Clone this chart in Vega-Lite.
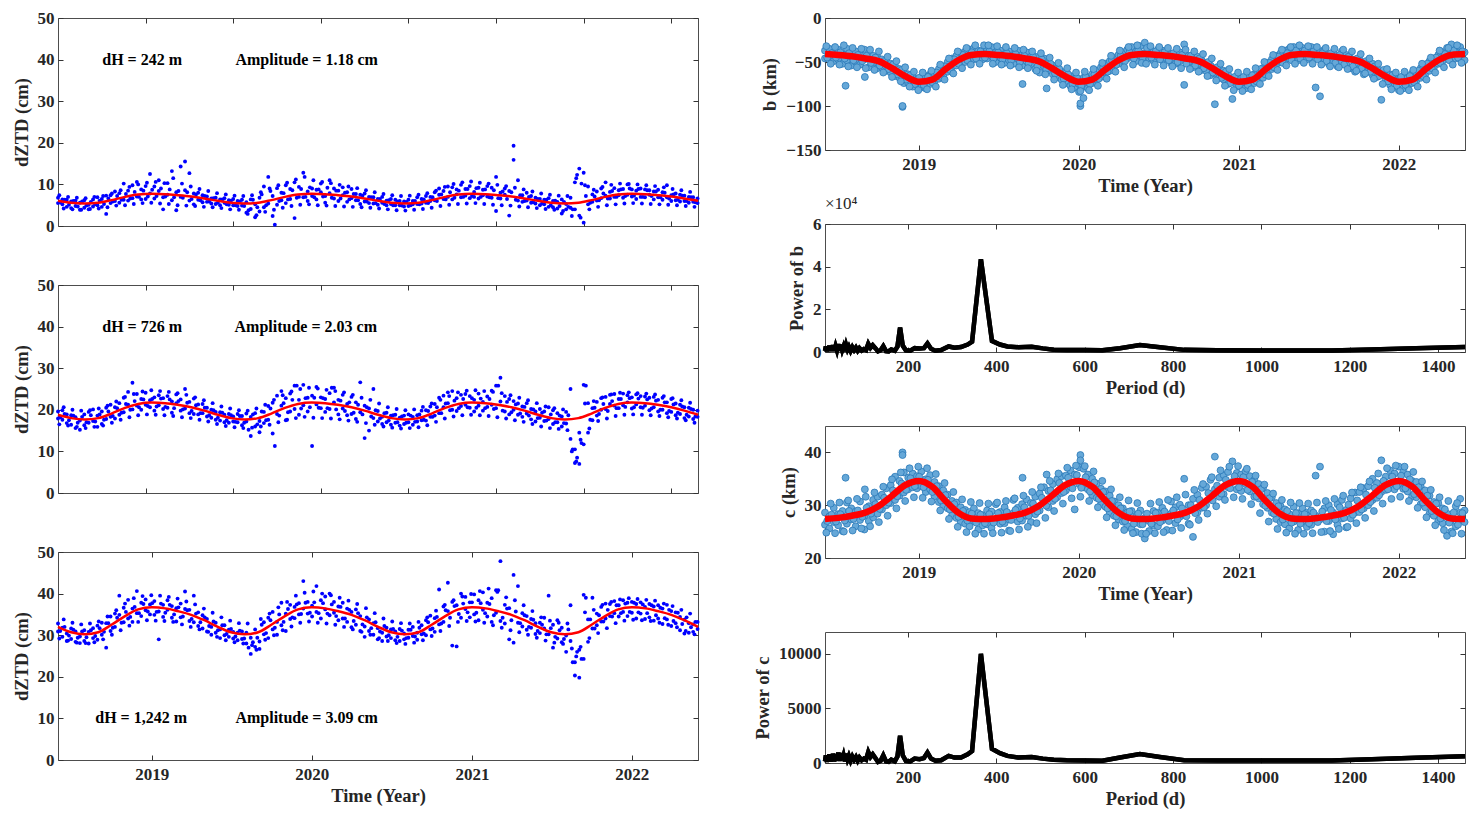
{
  "$schema": "https://vega.github.io/schema/vega-lite/v6.json",
  "background": "white",
  "padding": {"left": 11, "top": 8, "right": 5, "bottom": 5},
  "datasets": {
    "obs": [
      {"d":0,"p1":6.8,"p2":5.5,"q1":19.6,"q2":17.9,"r1":32.8,"r2":30.9,"b1":-37,"b2":-46,"c1":28.6,"c2":26.3},
      {"d":10,"p1":5.2,"p2":6.4,"q1":17.6,"q2":19.9,"r1":29.6,"r2":31.8,"b1":-44,"b2":-35,"c1":27.9,"c2":25.6},
      {"d":20,"p1":4.6,"p2":6.3,"q1":18.9,"q2":16.8,"r1":30.4,"r2":28.6,"b1":-39,"b2":-49,"c1":29.5,"c2":26.8},
      {"d":30,"p1":5.9,"p2":4.3,"q1":16.4,"q2":18.7,"r1":29.1,"r2":31.6,"b1":-47,"b2":-36,"c1":26.2,"c2":28.3},
      {"d":40,"p1":4.8,"p2":6.1,"q1":18.2,"q2":15.6,"r1":28.4,"r2":30.9,"b1":-41,"b2":-52,"c1":28.9,"c2":25.1},
      {"d":50,"p1":5.6,"p2":3.9,"q1":15.2,"q2":17.4,"r1":29.7,"r2":28.1,"b1":-35,"b2":-48,"c1":30.5,"c2":26.5},
      {"d":60,"p1":4.4,"p2":6.2,"q1":18.9,"q2":16.3,"r1":28.6,"r2":31.2,"b1":-44,"b2":-54,"c1":27.3,"c2":29.4},
      {"d":70,"p1":5.1,"p2":4.0,"q1":16.9,"q2":19.5,"r1":30.8,"r2":28.0,"b1":-38,"b2":-50,"c1":26.0,"c2":28.8},
      {"d":80,"p1":6.4,"p2":4.7,"q1":17.3,"q2":20.1,"r1":29.3,"r2":31.7,"b1":-53,"b2":-42,"c1":30.7,"c2":27.2},
      {"d":90,"p1":5.0,"p2":6.9,"q1":15.9,"q2":18.6,"r1":32.3,"r2":28.9,"b1":-47,"b2":-36,"c1":28.0,"c2":25.4},
      {"d":100,"p1":4.6,"p2":6.5,"q1":19.6,"q2":16.6,"r1":30.1,"r2":33.0,"b1":-40,"b2":-56,"c1":29.8,"c2":27.0},
      {"d":110,"p1":7.3,"p2":2.9,"q1":17.8,"q2":20.5,"r1":27.0,"r2":32.9,"b1":-51,"b2":-43,"c1":31.0,"c2":27.7},
      {"d":120,"p1":5.5,"p2":7.4,"q1":18.3,"q2":21.2,"r1":31.0,"r2":34.5,"b1":-45,"b2":-57,"c1":28.4,"c2":31.6},
      {"d":130,"p1":6.0,"p2":8.3,"q1":20.6,"q2":17.9,"r1":32.0,"r2":35.2,"b1":-56,"b2":-47,"c1":29.2,"c2":32.0},
      {"d":140,"p1":7.9,"p2":5.6,"q1":21.6,"q2":18.8,"r1":34.9,"r2":39.5,"b1":-50,"b2":-60,"c1":30.0,"c2":33.2},
      {"d":150,"p1":6.3,"p2":10.2,"q1":22.9,"q2":19.4,"r1":33.1,"r2":36.6,"b1":-62,"b2":-52,"c1":33.8,"c2":30.4},
      {"d":160,"p1":8.5,"p2":6.1,"q1":21.2,"q2":24.3,"r1":38.5,"r2":34.0,"b1":-55,"b2":-66,"c1":31.0,"c2":35.4},
      {"d":170,"p1":9.8,"p2":6.7,"q1":20.1,"q2":26.5,"r1":36.4,"r2":33.2,"b1":-68,"b2":-58,"c1":34.6,"c2":31.8},
      {"d":180,"p1":7.1,"p2":10.6,"q1":23.8,"q2":21.0,"r1":40.6,"r2":35.3,"b1":-61,"b2":-74,"c1":36.2,"c2":32.4},
      {"d":190,"p1":8.8,"p2":6.4,"q1":22.6,"q2":20.0,"r1":37.8,"r2":34.6,"b1":-74,"b2":-64,"c1":35.2,"c2":33.0},
      {"d":200,"p1":9.6,"p2":6.5,"q1":24.1,"q2":21.2,"r1":36.0,"r2":38.6,"b1":-67,"b2":-78,"c1":33.4,"c2":36.0},
      {"d":210,"p1":12.5,"p2":7.8,"q1":22.3,"q2":20.6,"r1":37.4,"r2":35.0,"b1":-76,"b2":-70,"c1":35.5,"c2":33.2},
      {"d":220,"p1":6.6,"p2":9.5,"q1":23.0,"q2":19.8,"r1":38.2,"r2":34.9,"b1":-69,"b2":-79,"c1":36.4,"c2":33.6},
      {"d":230,"p1":8.4,"p2":11.0,"q1":21.1,"q2":23.5,"r1":35.7,"r2":29.0,"b1":-80,"b2":-66,"c1":34.9,"c2":32.5},
      {"d":240,"p1":6.9,"p2":4.0,"q1":22.8,"q2":20.2,"r1":37.3,"r2":34.4,"b1":-64,"b2":-75,"c1":33.0,"c2":35.7},
      {"d":250,"p1":10.3,"p2":7.5,"q1":20.5,"q2":23.3,"r1":36.1,"r2":38.4,"b1":-72,"b2":-63,"c1":34.4,"c2":31.7},
      {"d":260,"p1":13.2,"p2":6.2,"q1":22.0,"q2":19.3,"r1":34.2,"r2":37.0,"b1":-58,"b2":-69,"c1":30.6,"c2":33.6},
      {"d":270,"p1":8.1,"p2":3.8,"q1":21.6,"q2":23.7,"r1":36.5,"r2":33.3,"b1":-66,"b2":-55,"c1":32.8,"c2":29.8},
      {"d":280,"p1":14.3,"p2":7.0,"q1":19.8,"q2":22.5,"r1":34.3,"r2":37.6,"b1":-50,"b2":-61,"c1":29.4,"c2":32.0},
      {"d":290,"p1":15.5,"p2":8.6,"q1":25.0,"q2":20.3,"r1":36.3,"r2":40.5,"b1":-56,"b2":-46,"c1":30.8,"c2":28.1},
      {"d":300,"p1":12.7,"p2":6.1,"q1":21.9,"q2":19.2,"r1":33.4,"r2":36.1,"b1":-43,"b2":-54,"c1":27.6,"c2":30.5},
      {"d":310,"p1":7.8,"p2":5.2,"q1":19.0,"q2":22.7,"r1":39.5,"r2":33.1,"b1":-49,"b2":-40,"c1":29.6,"c2":26.8},
      {"d":320,"p1":6.3,"p2":8.0,"q1":21.3,"q2":18.9,"r1":32.2,"r2":35.5,"b1":-38,"b2":-50,"c1":26.5,"c2":29.1},
      {"d":330,"p1":7.4,"p2":5.7,"q1":19.2,"q2":21.4,"r1":34.8,"r2":31.6,"b1":-45,"b2":-36,"c1":28.7,"c2":26.0},
      {"d":340,"p1":5.8,"p2":7.1,"q1":20.5,"q2":18.4,"r1":30.9,"r2":33.9,"b1":-34,"b2":-47,"c1":27.0,"c2":29.4},
      {"d":350,"p1":6.6,"p2":5.4,"q1":18.1,"q2":20.0,"r1":32.0,"r2":30.1,"b1":-44,"b2":-37,"c1":25.4,"c2":28.5},
      {"d":360,"p1":5.3,"p2":6.8,"q1":19.5,"q2":17.6,"r1":30.6,"r2":33.0,"b1":-39,"b2":-47,"c1":28.1,"c2":26.2},
      {"d":370,"p1":6.4,"p2":5.0,"q1":17.4,"q2":19.4,"r1":31.4,"r2":29.3,"b1":-36,"b2":-46,"c1":26.4,"c2":29.0},
      {"d":380,"p1":5.6,"p2":6.7,"q1":18.8,"q2":17.0,"r1":30.0,"r2":32.4,"b1":-43,"b2":-33,"c1":28.8,"c2":25.7},
      {"d":390,"p1":6.2,"p2":5.1,"q1":16.9,"q2":19.0,"r1":31.3,"r2":29.6,"b1":-39,"b2":-50,"c1":27.2,"c2":30.2},
      {"d":400,"p1":5.0,"p2":6.5,"q1":18.4,"q2":17.2,"r1":29.2,"r2":30.8,"b1":-45,"b2":-37,"c1":26.5,"c2":28.7},
      {"d":410,"p1":6.0,"p2":4.8,"q1":17.0,"q2":19.0,"r1":30.6,"r2":28.8,"b1":-41,"b2":-51,"c1":29.6,"c2":26.6},
      {"d":420,"p1":4.9,"p2":6.3,"q1":18.5,"q2":16.3,"r1":29.1,"r2":30.9,"b1":-48,"b2":-38,"c1":27.3,"c2":25.2},
      {"d":430,"p1":5.7,"p2":3.2,"q1":17.2,"q2":19.1,"r1":28.0,"r2":30.6,"b1":-52,"b2":-42,"c1":28.5,"c2":31.0},
      {"d":440,"p1":4.1,"p2":6.4,"q1":13.7,"q2":18.3,"r1":25.5,"r2":29.4,"b1":-46,"b2":-37,"c1":26.9,"c2":29.5},
      {"d":450,"p1":2.1,"p2":5.2,"q1":16.0,"q2":19.2,"r1":27.2,"r2":31.4,"b1":-54,"b2":-42,"c1":30.2,"c2":27.1},
      {"d":460,"p1":3.5,"p2":6.8,"q1":17.3,"q2":14.6,"r1":28.5,"r2":26.7,"b1":-49,"b2":-39,"c1":28.0,"c2":31.1},
      {"d":470,"p1":9.5,"p2":4.5,"q1":19.5,"q2":16.8,"r1":30.2,"r2":33.1,"b1":-53,"b2":-44,"c1":26.8,"c2":30.4},
      {"d":480,"p1":11.8,"p2":5.4,"q1":20.9,"q2":17.6,"r1":29.3,"r2":34.2,"b1":-44,"b2":-58,"c1":31.6,"c2":28.3},
      {"d":490,"p1":7.2,"p2":2.4,"q1":14.3,"q2":21.7,"r1":31.4,"r2":35.6,"b1":-51,"b2":-62,"c1":29.0,"c2":32.2},
      {"d":500,"p1":5.1,"p2":9.1,"q1":23.4,"q2":19.0,"r1":33.2,"r2":30.1,"b1":-55,"b2":-46,"c1":30.6,"c2":33.4},
      {"d":510,"p1":8.0,"p2":6.2,"q1":21.0,"q2":24.5,"r1":37.8,"r2":32.4,"b1":-60,"b2":-51,"c1":32.7,"c2":29.6},
      {"d":520,"p1":9.8,"p2":5.5,"q1":22.8,"q2":17.5,"r1":35.2,"r2":31.0,"b1":-64,"b2":-54,"c1":30.8,"c2":34.0},
      {"d":530,"p1":6.5,"p2":8.9,"q1":19.6,"q2":23.9,"r1":33.9,"r2":37.3,"b1":-57,"b2":-67,"c1":34.9,"c2":31.5},
      {"d":540,"p1":10.5,"p2":1.9,"q1":25.8,"q2":20.2,"r1":36.8,"r2":34.1,"b1":-70,"b2":-61,"c1":32.3,"c2":35.5},
      {"d":550,"p1":7.0,"p2":9.4,"q1":22.4,"q2":18.8,"r1":37.7,"r2":35.0,"b1":-63,"b2":-74,"c1":35.6,"c2":32.8},
      {"d":560,"p1":12.8,"p2":6.9,"q1":26.0,"q2":21.1,"r1":43.0,"r2":36.4,"b1":-77,"b2":-66,"c1":33.5,"c2":36.6},
      {"d":570,"p1":8.3,"p2":6.0,"q1":22.9,"q2":19.6,"r1":38.0,"r2":35.2,"b1":-69,"b2":-79,"c1":29.2,"c2":35.8},
      {"d":580,"p1":9.0,"p2":7.2,"q1":11.3,"q2":23.4,"r1":37.1,"r2":34.5,"b1":-75,"b2":-84,"c1":34.0,"c2":37.2},
      {"d":590,"p1":6.4,"p2":8.7,"q1":25.5,"q2":21.3,"r1":41.8,"r2":35.6,"b1":-68,"b2":-78,"c1":36.9,"c2":33.4},
      {"d":600,"p1":8.1,"p2":10.2,"q1":20.4,"q2":23.0,"r1":38.4,"r2":34.0,"b1":-80,"b2":-67,"c1":33.0,"c2":35.8},
      {"d":610,"p1":7.2,"p2":5.6,"q1":22.6,"q2":19.5,"r1":36.2,"r2":39.3,"b1":-64,"b2":-74,"c1":35.0,"c2":31.9},
      {"d":620,"p1":11.0,"p2":7.9,"q1":20.2,"q2":24.0,"r1":40.0,"r2":34.8,"b1":-70,"b2":-60,"c1":31.4,"c2":34.1},
      {"d":630,"p1":6.6,"p2":9.0,"q1":25.3,"q2":21.8,"r1":35.4,"r2":38.0,"b1":-56,"b2":-67,"c1":33.1,"c2":30.2},
      {"d":640,"p1":8.5,"p2":6.0,"q1":18.9,"q2":22.4,"r1":33.6,"r2":36.9,"b1":-62,"b2":-52,"c1":29.7,"c2":32.6},
      {"d":650,"p1":7.4,"p2":9.3,"q1":23.6,"q2":20.3,"r1":37.8,"r2":34.0,"b1":-49,"b2":-60,"c1":31.8,"c2":28.5},
      {"d":660,"p1":5.8,"p2":8.1,"q1":21.4,"q2":18.7,"r1":33.2,"r2":36.4,"b1":-55,"b2":-45,"c1":28.0,"c2":30.7},
      {"d":670,"p1":8.9,"p2":6.7,"q1":19.0,"q2":23.1,"r1":35.6,"r2":31.9,"b1":-42,"b2":-52,"c1":30.0,"c2":27.3},
      {"d":680,"p1":6.2,"p2":7.7,"q1":21.8,"q2":17.8,"r1":32.5,"r2":36.2,"b1":-48,"b2":-39,"c1":26.9,"c2":29.4},
      {"d":690,"p1":7.5,"p2":5.3,"q1":26.6,"q2":19.4,"r1":34.6,"r2":31.0,"b1":-36,"b2":-46,"c1":28.6,"c2":26.1},
      {"d":700,"p1":5.9,"p2":7.8,"q1":13.2,"q2":21.0,"r1":32.1,"r2":29.6,"b1":-44,"b2":-33,"c1":25.5,"c2":28.9},
      {"d":710,"p1":7.0,"p2":5.5,"q1":15.0,"q2":20.3,"r1":31.0,"r2":33.8,"b1":-38,"b2":-49,"c1":27.8,"c2":24.9},
      {"d":720,"p1":5.4,"p2":6.9,"q1":25.0,"q2":18.0,"r1":30.1,"r2":32.9,"b1":-32,"b2":-43,"c1":29.0,"c2":26.4},
      {"d":730,"p1":6.5,"p2":5.1,"q1":17.2,"q2":19.7,"r1":29.0,"r2":31.7,"b1":-28,"b2":-40,"c1":23.7,"c2":27.6},
      {"d":740,"p1":5.6,"p2":7.0,"q1":18.3,"q2":16.6,"r1":30.6,"r2":28.6,"b1":-46,"b2":-35,"c1":27.0,"c2":25.1},
      {"d":750,"p1":6.1,"p2":5.0,"q1":17.0,"q2":19.3,"r1":31.8,"r2":29.7,"b1":-38,"b2":-49,"c1":28.9,"c2":26.2},
      {"d":760,"p1":5.3,"p2":6.5,"q1":18.6,"q2":16.4,"r1":29.3,"r2":31.4,"b1":-44,"b2":-36,"c1":26.0,"c2":28.6},
      {"d":770,"p1":6.3,"p2":5.0,"q1":16.9,"q2":18.8,"r1":30.9,"r2":28.8,"b1":-37,"b2":-48,"c1":29.5,"c2":27.1},
      {"d":780,"p1":5.0,"p2":6.0,"q1":18.1,"q2":16.2,"r1":28.6,"r2":31.5,"b1":-46,"b2":-40,"c1":27.6,"c2":25.3},
      {"d":790,"p1":5.9,"p2":4.7,"q1":16.6,"q2":18.6,"r1":30.4,"r2":29.0,"b1":-51,"b2":-41,"c1":28.4,"c2":30.7},
      {"d":800,"p1":4.8,"p2":6.3,"q1":18.9,"q2":17.0,"r1":31.3,"r2":29.4,"b1":-43,"b2":-52,"c1":26.6,"c2":29.6},
      {"d":810,"p1":6.0,"p2":5.2,"q1":16.4,"q2":18.3,"r1":29.8,"r2":32.0,"b1":-39,"b2":-49,"c1":30.1,"c2":27.8},
      {"d":820,"p1":5.3,"p2":6.9,"q1":18.7,"q2":17.2,"r1":30.6,"r2":28.9,"b1":-30,"b2":-76,"c1":35.0,"c2":28.2},
      {"d":830,"p1":6.5,"p2":5.4,"q1":17.5,"q2":19.8,"r1":32.4,"r2":30.2,"b1":-52,"b2":-43,"c1":26.5,"c2":30.0},
      {"d":840,"p1":5.6,"p2":7.2,"q1":19.9,"q2":17.4,"r1":30.0,"r2":33.6,"b1":-45,"b2":-56,"c1":31.2,"c2":24.0},
      {"d":850,"p1":7.0,"p2":6.0,"q1":18.3,"q2":20.8,"r1":31.4,"r2":34.7,"b1":-53,"b2":-44,"c1":28.6,"c2":32.0},
      {"d":860,"p1":6.2,"p2":8.1,"q1":21.4,"q2":18.6,"r1":34.1,"r2":30.8,"b1":-48,"b2":-59,"c1":29.5,"c2":33.3},
      {"d":870,"p1":7.5,"p2":9.0,"q1":19.2,"q2":22.9,"r1":41.0,"r2":32.6,"b1":-60,"b2":-51,"c1":33.5,"c2":30.0},
      {"d":880,"p1":8.4,"p2":6.5,"q1":23.4,"q2":20.6,"r1":36.9,"r2":33.2,"b1":-54,"b2":-65,"c1":31.2,"c2":34.8},
      {"d":890,"p1":7.0,"p2":9.5,"q1":21.6,"q2":24.2,"r1":42.6,"r2":35.8,"b1":-98,"b2":-63,"c1":39.2,"c2":33.0},
      {"d":900,"p1":9.3,"p2":6.4,"q1":24.5,"q2":20.0,"r1":38.0,"r2":27.5,"b1":-56,"b2":-68,"c1":31.6,"c2":35.2},
      {"d":910,"p1":7.6,"p2":8.8,"q1":22.8,"q2":19.7,"r1":27.3,"r2":37.2,"b1":-70,"b2":-60,"c1":35.7,"c2":32.1},
      {"d":920,"p1":9.9,"p2":6.9,"q1":20.9,"q2":23.6,"r1":40.0,"r2":34.2,"b1":-64,"b2":-75,"c1":33.4,"c2":36.3},
      {"d":930,"p1":7.3,"p2":8.9,"q1":23.8,"q2":21.2,"r1":36.3,"r2":39.2,"b1":-92,"b2":-72,"c1":38.3,"c2":34.4},
      {"d":940,"p1":9.6,"p2":6.7,"q1":20.5,"q2":23.3,"r1":37.9,"r2":34.3,"b1":-66,"b2":-78,"c1":33.0,"c2":36.1},
      {"d":950,"p1":8.2,"p2":7.0,"q1":22.4,"q2":19.6,"r1":35.0,"r2":39.8,"b1":-75,"b2":-68,"c1":35.8,"c2":32.7},
      {"d":960,"p1":6.6,"p2":9.2,"q1":23.9,"q2":21.0,"r1":38.4,"r2":33.6,"b1":-69,"b2":-80,"c1":34.0,"c2":36.4},
      {"d":970,"p1":8.7,"p2":7.4,"q1":21.9,"q2":19.8,"r1":36.1,"r2":40.3,"b1":-77,"b2":-66,"c1":32.6,"c2":35.5},
      {"d":980,"p1":7.1,"p2":9.6,"q1":23.2,"q2":20.7,"r1":34.5,"r2":37.8,"b1":-64,"b2":-74,"c1":34.8,"c2":31.6},
      {"d":990,"p1":9.2,"p2":6.8,"q1":21.2,"q2":24.6,"r1":38.9,"r2":33.2,"b1":-70,"b2":-59,"c1":31.3,"c2":34.0},
      {"d":1000,"p1":11.8,"p2":3.6,"q1":25.8,"q2":20.4,"r1":40.8,"r2":35.4,"b1":-57,"b2":-68,"c1":33.3,"c2":30.2},
      {"d":1010,"p1":8.0,"p2":6.6,"q1":27.7,"q2":22.0,"r1":47.8,"r2":33.4,"b1":-62,"b2":-51,"c1":29.5,"c2":32.3},
      {"d":1020,"p1":9.0,"p2":7.5,"q1":19.6,"q2":23.3,"r1":37.3,"r2":32.8,"b1":-47,"b2":-58,"c1":31.5,"c2":28.6},
      {"d":1030,"p1":2.5,"p2":8.4,"q1":22.6,"q2":18.9,"r1":29.0,"r2":36.5,"b1":-53,"b2":-43,"c1":27.4,"c2":30.4},
      {"d":1040,"p1":19.3,"p2":15.9,"q1":20.0,"q2":22.1,"r1":44.5,"r2":28.2,"b1":-40,"b2":-50,"c1":29.8,"c2":26.8},
      {"d":1050,"p1":11.0,"p2":6.1,"q1":18.8,"q2":21.5,"r1":41.8,"r2":33.0,"b1":-47,"b2":-37,"c1":26.4,"c2":29.2},
      {"d":1060,"p1":7.4,"p2":5.8,"q1":20.8,"q2":18.3,"r1":32.1,"r2":35.3,"b1":-35,"b2":-46,"c1":28.3,"c2":25.6},
      {"d":1070,"p1":6.1,"p2":8.0,"q1":19.1,"q2":21.6,"r1":34.6,"r2":31.3,"b1":-44,"b2":-33,"c1":26.9,"c2":29.7},
      {"d":1080,"p1":7.2,"p2":5.6,"q1":17.7,"q2":20.2,"r1":31.8,"r2":33.9,"b1":-38,"b2":-48,"c1":28.5,"c2":25.3},
      {"d":1090,"p1":5.4,"p2":6.8,"q1":19.6,"q2":17.2,"r1":30.3,"r2":32.9,"b1":-46,"b2":-34,"c1":27.0,"c2":29.4},
      {"d":1100,"p1":6.5,"p2":5.0,"q1":18.1,"q2":20.2,"r1":33.0,"r2":30.5,"b1":-37,"b2":-47,"c1":28.6,"c2":25.9},
      {"d":1110,"p1":5.2,"p2":6.3,"q1":19.6,"q2":17.3,"r1":31.6,"r2":34.2,"b1":-44,"b2":-33,"c1":26.3,"c2":29.0},
      {"d":1120,"p1":6.7,"p2":4.6,"q1":17.8,"q2":20.6,"r1":39.5,"r2":30.2,"b1":-79,"b2":-42,"c1":35.6,"c2":28.0},
      {"d":1130,"p1":4.5,"p2":6.0,"q1":19.9,"q2":16.6,"r1":27.0,"r2":32.5,"b1":-89,"b2":-38,"c1":37.3,"c2":27.3},
      {"d":1140,"p1":5.8,"p2":4.2,"q1":17.0,"q2":19.2,"r1":29.2,"r2":33.6,"b1":-47,"b2":-36,"c1":29.4,"c2":25.0},
      {"d":1150,"p1":3.0,"p2":6.4,"q1":18.4,"q2":16.0,"r1":31.8,"r2":28.3,"b1":-42,"b2":-52,"c1":27.0,"c2":30.0},
      {"d":1160,"p1":5.3,"p2":4.0,"q1":16.7,"q2":19.5,"r1":29.9,"r2":26.0,"b1":-50,"b2":-40,"c1":24.5,"c2":28.6},
      {"d":1170,"p1":6.8,"p2":4.4,"q1":25.0,"q2":13.0,"r1":37.2,"r2":28.6,"b1":-45,"b2":-55,"c1":30.2,"c2":26.3},
      {"d":1180,"p1":10.5,"p2":4.0,"q1":7.2,"q2":10.5,"r1":20.3,"r2":23.5,"b1":-38,"b2":-50,"c1":27.5,"c2":31.0},
      {"d":1190,"p1":13.8,"p2":2.5,"q1":7.0,"q2":14.5,"r1":19.8,"r2":26.5,"b1":-53,"b2":-42,"c1":29.1,"c2":25.8},
      {"d":1200,"p1":0.8,"p2":12.8,"q1":26.0,"q2":11.7,"r1":39.7,"r2":24.3,"b1":-46,"b2":-57,"c1":31.3,"c2":27.5},
      {"d":1210,"p1":9.5,"p2":5.2,"q1":14.5,"q2":21.6,"r1":28.4,"r2":33.8,"b1":-52,"b2":-61,"c1":28.6,"c2":32.4},
      {"d":1220,"p1":7.6,"p2":5.8,"q1":20.4,"q2":17.5,"r1":39.0,"r2":31.6,"b1":-58,"b2":-47,"c1":32.5,"c2":28.7},
      {"d":1230,"p1":8.3,"p2":6.1,"q1":21.9,"q2":18.6,"r1":35.2,"r2":32.4,"b1":-54,"b2":-64,"c1":29.4,"c2":33.2},
      {"d":1240,"p1":6.7,"p2":9.0,"q1":22.8,"q2":20.0,"r1":36.8,"r2":33.3,"b1":-61,"b2":-50,"c1":33.6,"c2":30.0},
      {"d":1250,"p1":10.5,"p2":7.3,"q1":20.2,"q2":23.1,"r1":34.0,"r2":37.6,"b1":-52,"b2":-65,"c1":31.0,"c2":35.0},
      {"d":1260,"p1":8.2,"p2":6.6,"q1":23.6,"q2":21.4,"r1":37.5,"r2":34.6,"b1":-67,"b2":-57,"c1":34.2,"c2":31.4},
      {"d":1270,"p1":9.1,"p2":7.0,"q1":21.0,"q2":23.8,"r1":35.3,"r2":38.2,"b1":-93,"b2":-62,"c1":38.5,"c2":32.5},
      {"d":1280,"p1":7.4,"p2":8.6,"q1":22.6,"q2":20.4,"r1":37.2,"r2":34.5,"b1":-70,"b2":-61,"c1":35.4,"c2":32.9},
      {"d":1290,"p1":8.9,"p2":6.8,"q1":23.9,"q2":21.1,"r1":35.6,"r2":38.4,"b1":-64,"b2":-76,"c1":33.4,"c2":36.6},
      {"d":1300,"p1":10.0,"p2":7.5,"q1":21.8,"q2":23.5,"r1":37.8,"r2":34.6,"b1":-77,"b2":-68,"c1":36.0,"c2":33.0},
      {"d":1310,"p1":7.1,"p2":8.8,"q1":23.0,"q2":20.3,"r1":35.4,"r2":38.0,"b1":-70,"b2":-82,"c1":34.0,"c2":37.3},
      {"d":1320,"p1":8.5,"p2":6.5,"q1":21.3,"q2":23.7,"r1":37.5,"r2":34.0,"b1":-80,"b2":-67,"c1":36.3,"c2":33.1},
      {"d":1330,"p1":7.0,"p2":9.0,"q1":23.3,"q2":20.6,"r1":35.2,"r2":37.9,"b1":-68,"b2":-78,"c1":32.6,"c2":35.8},
      {"d":1340,"p1":8.8,"p2":6.9,"q1":21.0,"q2":23.2,"r1":36.8,"r2":33.9,"b1":-74,"b2":-63,"c1":34.6,"c2":31.6},
      {"d":1350,"p1":7.5,"p2":8.6,"q1":22.9,"q2":19.9,"r1":34.3,"r2":37.5,"b1":-62,"b2":-71,"c1":31.5,"c2":34.4},
      {"d":1360,"p1":8.3,"p2":6.4,"q1":20.6,"q2":23.1,"r1":36.9,"r2":33.5,"b1":-68,"b2":-57,"c1":33.5,"c2":30.2},
      {"d":1370,"p1":6.9,"p2":8.7,"q1":22.4,"q2":19.6,"r1":34.0,"r2":37.2,"b1":-53,"b2":-64,"c1":29.6,"c2":32.8},
      {"d":1380,"p1":8.1,"p2":6.3,"q1":20.0,"q2":22.9,"r1":36.4,"r2":32.7,"b1":-60,"b2":-49,"c1":31.8,"c2":28.4},
      {"d":1390,"p1":9.8,"p2":6.9,"q1":21.8,"q2":19.2,"r1":33.8,"r2":37.3,"b1":-46,"b2":-56,"c1":28.0,"c2":30.6},
      {"d":1400,"p1":7.4,"p2":6.0,"q1":19.5,"q2":22.6,"r1":35.8,"r2":32.2,"b1":-52,"b2":-42,"c1":30.4,"c2":27.0},
      {"d":1410,"p1":6.2,"p2":7.8,"q1":21.5,"q2":18.7,"r1":32.9,"r2":35.5,"b1":-39,"b2":-49,"c1":26.6,"c2":29.4},
      {"d":1420,"p1":7.5,"p2":5.9,"q1":19.0,"q2":21.2,"r1":31.2,"r2":34.4,"b1":-45,"b2":-34,"c1":24.2,"c2":28.4},
      {"d":1430,"p1":6.0,"p2":7.3,"q1":20.6,"q2":18.0,"r1":33.7,"r2":30.4,"b1":-30,"b2":-41,"c1":27.2,"c2":25.0},
      {"d":1440,"p1":7.0,"p2":5.6,"q1":18.4,"q2":20.5,"r1":30.6,"r2":32.9,"b1":-36,"b2":-46,"c1":26.0,"c2":29.8},
      {"d":1450,"p1":5.8,"p2":6.9,"q1":20.0,"q2":17.8,"r1":32.6,"r2":30.8,"b1":-43,"b2":-33,"c1":28.6,"c2":31.2},
      {"d":1460,"p1":6.6,"p2":5.5,"q1":18.3,"q2":19.8,"r1":31.5,"r2":33.2,"b1":-39,"b2":-48,"c1":29.0,"c2":26.8},
      {"d":47,"b1":-77,"c1":35.2},
      {"d":91,"b1":-67,"c1":33.0},
      {"d":177,"b1":-101,"b2":-100,"c1":40.0,"c2":39.5},
      {"d":451,"b1":-75,"c1":35.2},
      {"d":506,"b1":-80,"c1":35.8},
      {"d":583,"b1":-100,"b2":-97,"c1":39.5,"c2":38.5},
      {"d":590,"b1":-91}
    ],
    "obs2": [
      {"d":5,"p":5.7,"q":18.2,"r":31.0,"b":-45,"c":27.0},{"d":15,"p":6.3,"q":19.0,"r":32.0,"b":-40,"c":28.2},
      {"d":25,"p":5.1,"q":17.5,"r":29.9,"b":-45,"c":26.9},{"d":35,"p":6.0,"q":18.6,"r":31.3,"b":-39,"c":28.3},
      {"d":45,"p":4.7,"q":16.9,"r":29.4,"b":-46,"c":27.1},{"d":55,"p":5.9,"q":18.3,"r":30.9,"b":-40,"c":28.9},
      {"d":65,"p":4.9,"q":17.0,"r":29.5,"b":-48,"c":27.4},{"d":75,"p":5.8,"q":18.7,"r":31.2,"b":-42,"c":29.0},
      {"d":85,"p":5.2,"q":17.2,"r":29.8,"b":-49,"c":27.8},{"d":95,"p":6.1,"q":18.9,"r":31.7,"b":-43,"c":29.5},
      {"d":105,"p":5.3,"q":17.6,"r":30.8,"b":-51,"c":28.4},{"d":115,"p":6.6,"q":19.6,"r":32.9,"b":-45,"c":30.2},
      {"d":125,"p":5.9,"q":18.5,"r":31.8,"b":-54,"c":29.3},{"d":135,"p":7.2,"q":20.4,"r":34.2,"b":-49,"c":31.4},
      {"d":145,"p":6.3,"q":19.3,"r":33.0,"b":-58,"c":30.5},{"d":155,"p":7.7,"q":21.4,"r":35.6,"b":-53,"c":32.8},
      {"d":165,"p":6.6,"q":20.0,"r":34.4,"b":-64,"c":31.7},{"d":175,"p":8.2,"q":22.1,"r":36.8,"b":-59,"c":34.1},
      {"d":185,"p":7.0,"q":20.6,"r":35.3,"b":-70,"c":32.9},{"d":195,"p":8.5,"q":22.5,"r":37.5,"b":-65,"c":35.1},
      {"d":205,"p":7.1,"q":20.9,"r":35.7,"b":-75,"c":33.6},{"d":215,"p":8.7,"q":22.6,"r":37.7,"b":-68,"c":35.4},
      {"d":225,"p":7.2,"q":20.8,"r":35.6,"b":-76,"c":33.4},{"d":235,"p":9.0,"q":22.7,"r":37.6,"b":-67,"c":34.8},
      {"d":245,"p":7.1,"q":20.7,"r":35.4,"b":-73,"c":32.5},{"d":255,"p":8.8,"q":22.5,"r":37.3,"b":-62,"c":33.6},
      {"d":265,"p":6.9,"q":20.4,"r":35.0,"b":-67,"c":30.9},{"d":275,"p":8.4,"q":22.1,"r":36.7,"b":-55,"c":31.9},
      {"d":285,"p":6.8,"q":20.1,"r":34.5,"b":-59,"c":29.2},{"d":295,"p":8.1,"q":21.7,"r":36.0,"b":-47,"c":30.2},
      {"d":305,"p":6.5,"q":19.7,"r":33.9,"b":-52,"c":27.8},{"d":315,"p":7.6,"q":21.1,"r":35.2,"b":-42,"c":28.9},
      {"d":325,"p":6.2,"q":19.2,"r":33.1,"b":-48,"c":27.1},{"d":335,"p":7.2,"q":20.5,"r":34.3,"b":-39,"c":28.4},
      {"d":345,"p":5.9,"q":18.7,"r":32.2,"b":-46,"c":26.7},{"d":355,"p":6.7,"q":19.9,"r":33.3,"b":-38,"c":28.2},
      {"d":365,"p":5.6,"q":18.1,"r":31.2,"b":-45,"c":26.6},{"d":375,"p":6.4,"q":19.3,"r":32.4,"b":-38,"c":28.3},
      {"d":385,"p":5.2,"q":17.5,"r":30.3,"b":-46,"c":26.7},{"d":395,"p":6.1,"q":18.7,"r":31.5,"b":-39,"c":28.5},
      {"d":405,"p":5.0,"q":17.1,"r":29.7,"b":-47,"c":26.9},{"d":415,"p":5.9,"q":18.5,"r":31.1,"b":-40,"c":28.7},
      {"d":425,"p":4.8,"q":16.9,"r":29.2,"b":-48,"c":27.2},{"d":435,"p":3.8,"q":15.2,"r":27.0,"b":-41,"c":29.1},
      {"d":445,"p":6.3,"q":18.9,"r":28.3,"b":-50,"c":27.5},{"d":455,"p":4.5,"q":16.5,"r":29.4,"b":-43,"c":29.6},
      {"d":465,"p":7.6,"q":19.6,"r":32.5,"b":-52,"c":28.0},{"d":475,"p":5.0,"q":17.5,"r":30.5,"b":-44,"c":30.3},
      {"d":485,"p":8.4,"q":20.3,"r":33.6,"b":-55,"c":28.8},{"d":495,"p":0.3,"q":11.3,"r":31.8,"b":-47,"c":31.4},
      {"d":505,"p":6.0,"q":18.6,"r":35.0,"b":-58,"c":29.9},{"d":515,"p":7.9,"q":21.6,"r":33.2,"b":-52,"c":32.8},
      {"d":525,"p":6.4,"q":19.4,"r":36.3,"b":-63,"c":31.2},{"d":535,"p":8.6,"q":22.4,"r":34.3,"b":-58,"c":34.2},
      {"d":545,"p":6.8,"q":25.8,"r":37.4,"b":-69,"c":32.5},{"d":555,"p":8.9,"q":20.3,"r":35.1,"b":-64,"c":35.2},
      {"d":565,"p":7.0,"q":22.8,"r":37.8,"b":-75,"c":33.2},{"d":575,"p":9.3,"q":20.6,"r":35.4,"b":-68,"c":35.7},
      {"d":585,"p":6.9,"q":22.9,"r":37.9,"b":-77,"c":33.3},{"d":595,"p":8.8,"q":20.5,"r":35.3,"b":-67,"c":35.3},
      {"d":605,"p":7.1,"q":22.8,"r":37.7,"b":-75,"c":32.6},{"d":615,"p":9.2,"q":20.4,"r":35.2,"b":-64,"c":34.3},
      {"d":625,"p":6.8,"q":25.3,"r":37.4,"b":-69,"c":31.2},{"d":635,"p":8.5,"q":20.1,"r":34.6,"b":-56,"c":32.5},
      {"d":645,"p":6.6,"q":22.2,"r":36.8,"b":-61,"c":29.4},{"d":655,"p":8.0,"q":19.7,"r":34.0,"b":-48,"c":30.8},
      {"d":665,"p":6.4,"q":21.8,"r":36.1,"b":-53,"c":27.9},{"d":675,"p":7.7,"q":19.3,"r":33.4,"b":-43,"c":29.4},
      {"d":685,"p":6.2,"q":21.2,"r":35.3,"b":-49,"c":27.0},{"d":695,"p":7.3,"q":18.9,"r":32.6,"b":-39,"c":28.8},
      {"d":705,"p":5.9,"q":20.6,"r":34.3,"b":-46,"c":26.5},{"d":715,"p":6.9,"q":18.4,"r":31.7,"b":-37,"c":28.4},
      {"d":725,"p":5.5,"q":19.9,"r":33.1,"b":-45,"c":26.4},{"d":735,"p":6.5,"q":17.9,"r":30.9,"b":-34,"c":28.4},
      {"d":745,"p":5.3,"q":19.2,"r":32.2,"b":-45,"c":26.5},{"d":755,"p":6.2,"q":17.4,"r":30.0,"b":-38,"c":28.5},
      {"d":765,"p":5.0,"q":18.7,"r":31.5,"b":-47,"c":26.8},{"d":775,"p":5.9,"q":17.0,"r":29.6,"b":-39,"c":28.8},
      {"d":785,"p":4.9,"q":18.4,"r":31.1,"b":-48,"c":27.0},{"d":795,"p":5.8,"q":16.9,"r":29.3,"b":-40,"c":29.0},
      {"d":805,"p":5.0,"q":18.6,"r":31.3,"b":-50,"c":27.3},{"d":815,"p":6.0,"q":17.1,"r":29.7,"b":-42,"c":29.4},
      {"d":825,"p":5.2,"q":18.9,"r":31.8,"b":-52,"c":27.9},{"d":835,"p":6.4,"q":17.6,"r":30.4,"b":-43,"c":30.0},
      {"d":845,"p":5.5,"q":19.7,"r":33.1,"b":-54,"c":28.5},{"d":855,"p":6.9,"q":18.3,"r":31.6,"b":-46,"c":31.0},
      {"d":865,"p":6.0,"q":20.6,"r":34.4,"b":-57,"c":29.6},{"d":875,"p":7.6,"q":19.2,"r":32.8,"b":-50,"c":32.3},
      {"d":885,"p":6.4,"q":21.5,"r":36.0,"b":-62,"c":30.9},{"d":895,"p":8.1,"q":19.9,"r":34.2,"b":-56,"c":33.7},
      {"d":905,"p":6.8,"q":22.2,"r":37.0,"b":-68,"c":32.2},{"d":915,"p":8.5,"q":20.4,"r":35.1,"b":-61,"c":34.8},
      {"d":925,"p":7.0,"q":22.6,"r":37.6,"b":-74,"c":33.2},{"d":935,"p":8.9,"q":20.6,"r":35.5,"b":-67,"c":35.5},
      {"d":945,"p":7.2,"q":22.8,"r":37.9,"b":-77,"c":33.4},{"d":955,"p":9.1,"q":20.5,"r":35.4,"b":-67,"c":35.3},
      {"d":965,"p":7.0,"q":22.7,"r":37.7,"b":-76,"c":32.9},{"d":975,"p":8.8,"q":20.4,"r":35.3,"b":-65,"c":34.4},
      {"d":985,"p":6.9,"q":22.6,"r":37.5,"b":-72,"c":31.7},{"d":995,"p":8.6,"q":20.2,"r":34.8,"b":-58,"c":33.0},
      {"d":1005,"p":6.7,"q":25.8,"r":40.8,"b":-64,"c":29.9},{"d":1015,"p":8.3,"q":19.8,"r":34.2,"b":-51,"c":31.3},
      {"d":1025,"p":6.5,"q":21.9,"r":36.4,"b":-56,"c":28.4},{"d":1035,"p":8.1,"q":19.4,"r":33.6,"b":-44,"c":29.8},
      {"d":1045,"p":6.3,"q":21.3,"r":35.7,"b":-51,"c":27.3},{"d":1055,"p":7.4,"q":19.1,"r":32.9,"b":-40,"c":28.9},
      {"d":1065,"p":6.0,"q":20.7,"r":34.8,"b":-48,"c":26.7},{"d":1075,"p":7.0,"q":18.6,"r":32.0,"b":-37,"c":28.5},
      {"d":1085,"p":5.7,"q":20.1,"r":33.7,"b":-46,"c":26.5},{"d":1095,"p":6.5,"q":18.0,"r":31.0,"b":-37,"c":28.3},
      {"d":1105,"p":5.4,"q":19.3,"r":32.5,"b":-45,"c":26.6},{"d":1115,"p":6.3,"q":17.4,"r":30.2,"b":-38,"c":28.6},
      {"d":1125,"p":5.0,"q":18.9,"r":31.7,"b":-47,"c":26.8},{"d":1135,"p":6.1,"q":17.0,"r":29.6,"b":-40,"c":28.8},
      {"d":1145,"p":4.8,"q":18.6,"r":31.2,"b":-49,"c":27.0},{"d":1155,"p":5.8,"q":16.8,"r":29.1,"b":-40,"c":29.1},
      {"d":1165,"p":4.6,"q":18.7,"r":31.4,"b":-51,"c":27.3},{"d":1175,"p":4.0,"q":10.5,"r":23.5,"b":-42,"c":29.6},
      {"d":1185,"p":12.3,"q":8.5,"r":26.0,"b":-53,"c":27.6},{"d":1195,"p":10.2,"q":12.0,"r":24.3,"b":-44,"c":30.1},
      {"d":1205,"p":7.2,"q":25.8,"r":39.0,"b":-55,"c":28.2},{"d":1215,"p":5.6,"q":17.6,"r":33.8,"b":-46,"c":30.9},
      {"d":1225,"p":7.1,"q":20.5,"r":31.6,"b":-57,"c":29.2},{"d":1235,"p":6.2,"q":19.0,"r":34.8,"b":-49,"c":32.0},
      {"d":1245,"p":7.8,"q":21.4,"r":33.3,"b":-61,"c":30.6},{"d":1255,"p":6.6,"q":19.7,"r":36.1,"b":-55,"c":33.3},
      {"d":1265,"p":8.4,"q":22.1,"r":34.5,"b":-66,"c":31.9},{"d":1275,"p":7.0,"q":20.4,"r":37.2,"b":-59,"c":34.6},
      {"d":1285,"p":8.8,"q":22.6,"r":35.3,"b":-72,"c":33.0},{"d":1295,"p":7.2,"q":20.7,"r":37.6,"b":-65,"c":35.4},
      {"d":1305,"p":9.0,"q":22.8,"r":35.6,"b":-77,"c":33.6},{"d":1315,"p":7.3,"q":20.6,"r":37.8,"b":-67,"c":35.6},
      {"d":1325,"p":8.9,"q":22.7,"r":35.5,"b":-76,"c":33.2},{"d":1335,"p":7.0,"q":20.5,"r":37.4,"b":-66,"c":34.9},
      {"d":1345,"p":8.6,"q":22.5,"r":35.3,"b":-73,"c":32.1},{"d":1355,"p":7.2,"q":20.3,"r":37.2,"b":-60,"c":33.4},
      {"d":1365,"p":8.3,"q":22.2,"r":34.8,"b":-66,"c":30.5},{"d":1375,"p":6.9,"q":20.0,"r":36.6,"b":-52,"c":31.8},
      {"d":1385,"p":8.0,"q":21.8,"r":34.1,"b":-57,"c":28.9},{"d":1395,"p":6.6,"q":19.7,"r":36.1,"b":-45,"c":30.3},
      {"d":1405,"p":7.6,"q":21.3,"r":33.4,"b":-51,"c":27.5},{"d":1415,"p":6.3,"q":19.3,"r":35.4,"b":-41,"c":29.2},
      {"d":1425,"p":7.3,"q":20.8,"r":32.7,"b":-48,"c":26.7},{"d":1435,"p":6.0,"q":18.8,"r":34.3,"b":-37,"c":28.6},
      {"d":1445,"p":6.9,"q":20.2,"r":31.9,"b":-45,"c":26.3},{"d":1455,"p":5.7,"q":18.4,"r":33.2,"b":-38,"c":28.5}
    ],
    "obs3": [
      {"d":3,"p":7.4,"q":16.5,"r":29.2,"b":-32,"c":24.8},{"d":13,"p":4.2,"q":20.6,"r":33.8,"b":-52,"c":30.3},
      {"d":23,"p":7.0,"q":16.2,"r":28.7,"b":-33,"c":24.7},{"d":33,"p":4.0,"q":20.0,"r":33.0,"b":-53,"c":30.5},
      {"d":43,"p":6.8,"q":15.9,"r":28.2,"b":-31,"c":25.0},{"d":53,"p":3.9,"q":19.8,"r":32.6,"b":-55,"c":30.9},
      {"d":63,"p":6.7,"q":15.6,"r":28.1,"b":-34,"c":25.2},{"d":73,"p":4.1,"q":19.9,"r":32.8,"b":-56,"c":31.2},
      {"d":83,"p":7.0,"q":15.9,"r":28.3,"b":-35,"c":25.6},{"d":93,"p":4.2,"q":20.3,"r":33.3,"b":-57,"c":31.6},
      {"d":103,"p":7.2,"q":16.2,"r":29.0,"b":-36,"c":26.0},{"d":113,"p":4.5,"q":21.0,"r":34.5,"b":-59,"c":32.4},
      {"d":123,"p":7.8,"q":16.9,"r":30.1,"b":-38,"c":26.8},{"d":133,"p":4.9,"q":22.0,"r":36.0,"b":-62,"c":33.5},
      {"d":143,"p":8.6,"q":17.6,"r":31.2,"b":-44,"c":28.0},{"d":153,"p":5.0,"q":23.1,"r":37.6,"b":-67,"c":34.9},
      {"d":163,"p":9.4,"q":18.2,"r":32.3,"b":-49,"c":29.4},{"d":173,"p":5.3,"q":23.8,"r":38.9,"b":-72,"c":36.2},
      {"d":183,"p":10.0,"q":18.7,"r":33.2,"b":-56,"c":30.8},{"d":193,"p":5.5,"q":24.4,"r":39.4,"b":-78,"c":37.0},
      {"d":203,"p":10.4,"q":18.9,"r":33.6,"b":-61,"c":31.5},{"d":213,"p":5.6,"q":24.7,"r":39.6,"b":-82,"c":37.3},
      {"d":223,"p":10.6,"q":18.8,"r":33.5,"b":-62,"c":31.4},{"d":233,"p":5.4,"q":24.5,"r":39.5,"b":-81,"c":37.0},
      {"d":243,"p":10.3,"q":18.7,"r":33.4,"b":-60,"c":30.7},{"d":253,"p":5.3,"q":24.3,"r":39.2,"b":-78,"c":35.9},
      {"d":263,"p":11.5,"q":18.5,"r":33.2,"b":-53,"c":29.0},{"d":273,"p":5.0,"q":24.0,"r":38.8,"b":-70,"c":34.2},
      {"d":283,"p":10.2,"q":18.2,"r":32.6,"b":-46,"c":27.4},{"d":293,"p":4.9,"q":23.6,"r":38.1,"b":-63,"c":32.5},
      {"d":303,"p":9.5,"q":18.0,"r":32.0,"b":-38,"c":25.9},{"d":313,"p":4.8,"q":23.0,"r":37.4,"b":-57,"c":31.1},
      {"d":323,"p":8.9,"q":17.6,"r":31.4,"b":-34,"c":24.9},{"d":333,"p":4.6,"q":22.3,"r":36.4,"b":-53,"c":30.6},
      {"d":343,"p":8.4,"q":17.2,"r":30.8,"b":-31,"c":24.6},{"d":353,"p":4.5,"q":21.6,"r":35.4,"b":-52,"c":30.4},
      {"d":363,"p":7.9,"q":16.6,"r":29.6,"b":-31,"c":24.6},{"d":373,"p":4.3,"q":20.8,"r":34.3,"b":-31,"c":30.3},
      {"d":383,"p":7.6,"q":16.1,"r":28.8,"b":-52,"c":24.7},{"d":393,"p":4.0,"q":20.3,"r":33.5,"b":-32,"c":30.5},
      {"d":403,"p":7.3,"q":15.8,"r":28.3,"b":-53,"c":24.8},{"d":413,"p":3.9,"q":19.9,"r":32.9,"b":-33,"c":30.8},
      {"d":423,"p":7.2,"q":15.6,"r":28.0,"b":-54,"c":25.1},{"d":433,"p":2.9,"q":19.8,"r":32.8,"b":-34,"c":31.3},
      {"d":443,"p":7.4,"q":15.7,"r":27.6,"b":-56,"c":25.4},{"d":453,"p":2.6,"q":20.3,"r":26.5,"b":-36,"c":31.8},
      {"d":463,"p":8.1,"q":16.0,"r":33.9,"b":-57,"c":25.9},{"d":473,"p":3.4,"q":21.2,"r":28.9,"b":-38,"c":32.5},
      {"d":483,"p":9.0,"q":16.4,"r":35.2,"b":-60,"c":26.6},{"d":493,"p":3.9,"q":22.4,"r":30.0,"b":-40,"c":33.4},
      {"d":503,"p":9.8,"q":17.0,"r":36.7,"b":-64,"c":27.6},{"d":513,"p":4.4,"q":23.5,"r":31.2,"b":-45,"c":34.6},
      {"d":523,"p":10.4,"q":17.6,"r":38.0,"b":-70,"c":28.9},{"d":533,"p":4.8,"q":24.4,"r":32.1,"b":-51,"c":36.0},
      {"d":543,"p":11.2,"q":18.0,"r":39.5,"b":-76,"c":30.3},{"d":553,"p":5.1,"q":25.0,"r":33.0,"b":-57,"c":37.1},
      {"d":563,"p":11.8,"q":18.3,"r":40.2,"b":-81,"c":31.3},{"d":573,"p":5.2,"q":25.3,"r":33.3,"b":-62,"c":37.5},
      {"d":583,"p":11.0,"q":18.1,"r":40.5,"b":-83,"c":31.6},{"d":593,"p":5.0,"q":25.1,"r":33.0,"b":-61,"c":37.4},
      {"d":603,"p":10.6,"q":18.0,"r":40.0,"b":-82,"c":30.8},{"d":613,"p":4.9,"q":24.8,"r":32.8,"b":-58,"c":36.4},
      {"d":623,"p":10.3,"q":17.9,"r":39.6,"b":-77,"c":29.6},{"d":633,"p":4.8,"q":24.5,"r":32.5,"b":-51,"c":34.6},
      {"d":643,"p":9.9,"q":17.7,"r":39.0,"b":-69,"c":27.7},{"d":653,"p":4.7,"q":24.2,"r":32.0,"b":-43,"c":33.0},
      {"d":663,"p":9.5,"q":17.4,"r":38.3,"b":-61,"c":26.2},{"d":673,"p":4.6,"q":23.6,"r":31.4,"b":-37,"c":31.5},
      {"d":683,"p":9.1,"q":17.1,"r":37.5,"b":-56,"c":25.3},{"d":693,"p":4.5,"q":22.9,"r":30.8,"b":-33,"c":30.9},
      {"d":703,"p":8.6,"q":16.8,"r":36.5,"b":-53,"c":24.7},{"d":713,"p":4.4,"q":22.4,"r":30.1,"b":-31,"c":30.4},
      {"d":723,"p":8.1,"q":16.4,"r":35.3,"b":-51,"c":24.6},{"d":733,"p":4.2,"q":21.5,"r":29.3,"b":-52,"c":24.6},
      {"d":743,"p":7.7,"q":16.0,"r":34.0,"b":-32,"c":30.3},{"d":753,"p":4.0,"q":20.6,"r":28.6,"b":-53,"c":24.7},
      {"d":763,"p":7.4,"q":15.7,"r":33.3,"b":-33,"c":30.6},{"d":773,"p":3.8,"q":20.2,"r":28.1,"b":-54,"c":24.9},
      {"d":783,"p":7.2,"q":15.5,"r":32.9,"b":-34,"c":31.0},{"d":793,"p":3.7,"q":19.9,"r":27.9,"b":-55,"c":25.2},
      {"d":803,"p":7.3,"q":15.6,"r":32.8,"b":-35,"c":31.5},{"d":813,"p":3.9,"q":20.1,"r":28.2,"b":-57,"c":25.7},
      {"d":823,"p":7.5,"q":15.8,"r":33.2,"b":-36,"c":32.0},{"d":833,"p":4.1,"q":20.7,"r":28.8,"b":-58,"c":26.3},
      {"d":843,"p":7.9,"q":16.3,"r":34.3,"b":-38,"c":32.9},{"d":853,"p":4.4,"q":21.5,"r":29.8,"b":-61,"c":27.2},
      {"d":863,"p":8.5,"q":17.1,"r":35.9,"b":-41,"c":34.0},{"d":873,"p":4.8,"q":22.4,"r":31.0,"b":-66,"c":28.4},
      {"d":883,"p":9.4,"q":17.9,"r":37.3,"b":-46,"c":35.3},{"d":893,"p":5.1,"q":23.3,"r":32.2,"b":-71,"c":29.8},
      {"d":903,"p":10.1,"q":18.4,"r":38.4,"b":-52,"c":36.6},{"d":913,"p":5.3,"q":24.2,"r":33.2,"b":-77,"c":31.0},
      {"d":923,"p":10.5,"q":18.7,"r":39.3,"b":-58,"c":37.3},{"d":933,"p":5.4,"q":24.6,"r":33.4,"b":-82,"c":31.5},
      {"d":943,"p":10.7,"q":18.8,"r":39.9,"b":-62,"c":37.4},{"d":953,"p":5.5,"q":24.7,"r":33.3,"b":-83,"c":31.2},
      {"d":963,"p":10.4,"q":18.7,"r":40.6,"b":-61,"c":36.9},{"d":973,"p":5.3,"q":24.5,"r":33.0,"b":-81,"c":30.2},
      {"d":983,"p":10.2,"q":18.5,"r":41.2,"b":-57,"c":35.6},{"d":993,"p":5.1,"q":24.3,"r":32.4,"b":-75,"c":28.5},
      {"d":1003,"p":9.9,"q":18.2,"r":40.4,"b":-50,"c":33.9},{"d":1013,"p":5.0,"q":24.0,"r":31.8,"b":-66,"c":26.9},
      {"d":1023,"p":9.6,"q":17.9,"r":39.1,"b":-42,"c":32.2},{"d":1033,"p":4.9,"q":23.5,"r":31.2,"b":-59,"c":25.5},
      {"d":1043,"p":9.2,"q":17.5,"r":38.4,"b":-36,"c":31.0},{"d":1053,"p":4.7,"q":22.9,"r":30.7,"b":-54,"c":24.8},
      {"d":1063,"p":8.8,"q":17.1,"r":37.2,"b":-33,"c":30.5},{"d":1073,"p":4.5,"q":22.3,"r":30.1,"b":-52,"c":24.6},
      {"d":1083,"p":8.3,"q":16.6,"r":35.8,"b":-31,"c":30.4},{"d":1093,"p":4.3,"q":21.6,"r":29.4,"b":-51,"c":24.6},
      {"d":1103,"p":7.8,"q":16.0,"r":34.3,"b":-32,"c":30.3},{"d":1113,"p":4.1,"q":20.8,"r":28.7,"b":-52,"c":24.7},
      {"d":1123,"p":7.5,"q":15.6,"r":33.5,"b":-33,"c":30.5},{"d":1133,"p":3.9,"q":20.4,"r":28.2,"b":-53,"c":24.9},
      {"d":1143,"p":7.3,"q":15.4,"r":33.0,"b":-34,"c":30.8},{"d":1153,"p":3.6,"q":20.1,"r":27.9,"b":-55,"c":25.1},
      {"d":1163,"p":7.2,"q":15.1,"r":32.8,"b":-35,"c":31.2},{"d":1173,"p":2.4,"q":10.0,"r":26.8,"b":-56,"c":25.5},
      {"d":1183,"p":11.5,"q":7.6,"r":24.9,"b":-36,"c":31.8},{"d":1193,"p":2.0,"q":12.8,"r":27.2,"b":-58,"c":25.9},
      {"d":1203,"p":9.8,"q":21.5,"r":35.5,"b":-38,"c":32.4},{"d":1213,"p":4.0,"q":15.5,"r":29.3,"b":-60,"c":26.6},
      {"d":1223,"p":8.7,"q":22.1,"r":36.1,"b":-41,"c":33.4},{"d":1233,"p":4.6,"q":17.3,"r":30.5,"b":-63,"c":27.6},
      {"d":1243,"p":9.4,"q":23.0,"r":37.3,"b":-46,"c":34.5},{"d":1253,"p":5.0,"q":17.9,"r":31.7,"b":-69,"c":28.9},
      {"d":1263,"p":9.9,"q":23.7,"r":38.0,"b":-52,"c":36.0},{"d":1273,"p":5.2,"q":18.5,"r":32.9,"b":-75,"c":30.3},
      {"d":1283,"p":10.2,"q":24.1,"r":38.6,"b":-58,"c":37.0},{"d":1293,"p":5.4,"q":18.8,"r":33.5,"b":-81,"c":31.2},
      {"d":1303,"p":10.1,"q":24.2,"r":38.9,"b":-62,"c":37.5},{"d":1313,"p":5.5,"q":18.9,"r":33.7,"b":-83,"c":31.6},
      {"d":1323,"p":10.0,"q":24.0,"r":38.7,"b":-61,"c":37.3},{"d":1333,"p":5.4,"q":18.8,"r":33.6,"b":-82,"c":30.8},
      {"d":1343,"p":9.8,"q":23.9,"r":38.5,"b":-59,"c":36.3},{"d":1353,"p":5.3,"q":18.7,"r":33.4,"b":-78,"c":29.5},
      {"d":1363,"p":9.6,"q":23.7,"r":38.3,"b":-52,"c":34.5},{"d":1373,"p":5.2,"q":18.5,"r":33.0,"b":-70,"c":27.7},
      {"d":1383,"p":9.3,"q":23.3,"r":37.6,"b":-45,"c":32.9},{"d":1393,"p":5.1,"q":18.2,"r":32.5,"b":-62,"c":26.2},
      {"d":1403,"p":8.9,"q":22.8,"r":37.0,"b":-37,"c":31.5},{"d":1413,"p":5.0,"q":17.9,"r":31.9,"b":-56,"c":25.3},
      {"d":1423,"p":8.6,"q":22.3,"r":36.1,"b":-34,"c":30.8},{"d":1433,"p":4.8,"q":17.5,"r":31.0,"b":-53,"c":24.7},
      {"d":1443,"p":8.2,"q":21.7,"r":35.2,"b":-31,"c":30.4},{"d":1453,"p":4.6,"q":16.9,"r":30.2,"b":-51,"c":24.6}
    ],
    "fit": [
      {"d":0,"p":6.06,"q":18.8,"r":32.0,"b":-41,"c":27.4},
      {"d":30,"p":5.59,"q":18.0,"r":30.7,"b":-42,"c":27.6},
      {"d":61,"p":5.4,"q":17.65,"r":30.2,"b":-43.5,"c":28.0},
      {"d":92,"p":5.59,"q":18.0,"r":30.7,"b":-46,"c":28.6},
      {"d":122,"p":6.22,"q":19.1,"r":32.5,"b":-49,"c":29.8},
      {"d":153,"p":7.0,"q":20.45,"r":34.6,"b":-57,"c":31.8},
      {"d":183,"p":7.56,"q":21.4,"r":36.2,"b":-66,"c":33.8},
      {"d":214,"p":7.75,"q":21.75,"r":36.7,"b":-72.5,"c":34.6},
      {"d":245,"p":7.66,"q":21.6,"r":36.45,"b":-70,"c":33.5},
      {"d":273,"p":7.42,"q":21.2,"r":35.8,"b":-59,"c":31.0},
      {"d":304,"p":7.09,"q":20.6,"r":34.9,"b":-48,"c":28.6},
      {"d":334,"p":6.62,"q":19.8,"r":33.6,"b":-42,"c":27.5},
      {"d":365,"p":6.06,"q":18.8,"r":32.0,"b":-41,"c":27.4},
      {"d":395,"p":5.59,"q":18.0,"r":30.7,"b":-42,"c":27.6},
      {"d":426,"p":5.4,"q":17.65,"r":30.2,"b":-43.5,"c":28.0},
      {"d":457,"p":5.59,"q":18.0,"r":30.7,"b":-46,"c":28.6},
      {"d":487,"p":6.22,"q":19.1,"r":32.5,"b":-49,"c":29.8},
      {"d":518,"p":7.0,"q":20.45,"r":34.6,"b":-57,"c":31.8},
      {"d":548,"p":7.56,"q":21.4,"r":36.2,"b":-66,"c":33.8},
      {"d":579,"p":7.75,"q":21.75,"r":36.7,"b":-72.5,"c":34.6},
      {"d":610,"p":7.66,"q":21.6,"r":36.45,"b":-70,"c":33.5},
      {"d":639,"p":7.42,"q":21.2,"r":35.8,"b":-59,"c":31.0},
      {"d":670,"p":7.09,"q":20.6,"r":34.9,"b":-48,"c":28.6},
      {"d":700,"p":6.62,"q":19.8,"r":33.6,"b":-42,"c":27.5},
      {"d":731,"p":6.06,"q":18.8,"r":32.0,"b":-41,"c":27.4},
      {"d":761,"p":5.59,"q":18.0,"r":30.7,"b":-42,"c":27.6},
      {"d":792,"p":5.4,"q":17.65,"r":30.2,"b":-43.5,"c":28.0},
      {"d":823,"p":5.59,"q":18.0,"r":30.7,"b":-46,"c":28.6},
      {"d":853,"p":6.22,"q":19.1,"r":32.5,"b":-49,"c":29.8},
      {"d":884,"p":7.0,"q":20.45,"r":34.6,"b":-57,"c":31.8},
      {"d":914,"p":7.56,"q":21.4,"r":36.2,"b":-66,"c":33.8},
      {"d":945,"p":7.75,"q":21.75,"r":36.7,"b":-72.5,"c":34.6},
      {"d":976,"p":7.66,"q":21.6,"r":36.45,"b":-70,"c":33.5},
      {"d":1004,"p":7.42,"q":21.2,"r":35.8,"b":-59,"c":31.0},
      {"d":1035,"p":7.09,"q":20.6,"r":34.9,"b":-48,"c":28.6},
      {"d":1065,"p":6.62,"q":19.8,"r":33.6,"b":-42,"c":27.5},
      {"d":1096,"p":6.06,"q":18.8,"r":32.0,"b":-41,"c":27.4},
      {"d":1126,"p":5.59,"q":18.0,"r":30.7,"b":-42,"c":27.6},
      {"d":1157,"p":5.4,"q":17.65,"r":30.2,"b":-43.5,"c":28.0},
      {"d":1188,"p":5.59,"q":18.0,"r":30.7,"b":-46,"c":28.6},
      {"d":1218,"p":6.22,"q":19.1,"r":32.5,"b":-49,"c":29.8},
      {"d":1249,"p":7.0,"q":20.45,"r":34.6,"b":-57,"c":31.8},
      {"d":1279,"p":7.56,"q":21.4,"r":36.2,"b":-66,"c":33.8},
      {"d":1310,"p":7.75,"q":21.75,"r":36.7,"b":-72.5,"c":34.6},
      {"d":1341,"p":7.66,"q":21.6,"r":36.45,"b":-70,"c":33.5},
      {"d":1369,"p":7.42,"q":21.2,"r":35.8,"b":-59,"c":31.0},
      {"d":1400,"p":7.09,"q":20.6,"r":34.9,"b":-48,"c":28.6},
      {"d":1430,"p":6.62,"q":19.8,"r":33.6,"b":-42,"c":27.5},
      {"d":1461,"p":6.06,"q":18.8,"r":32.0,"b":-41,"c":27.4}
    ],
    "spec": [
      {"p":12,"b":500,"c":150},{"p":14,"b":2600,"c":700},{"p":16,"b":300,"c":100},{"p":18,"b":2200,"c":550},
      {"p":20,"b":800,"c":250},{"p":22,"b":3000,"c":800},{"p":24,"b":400,"c":120},{"p":26,"b":2500,"c":650},
      {"p":28,"b":600,"c":200},{"p":30,"b":3200,"c":850},{"p":33,"b":500,"c":150},{"p":36,"b":2800,"c":750},
      {"p":39,"b":800,"c":250},{"p":42,"b":3600,"c":950},{"p":45,"b":600,"c":200},{"p":48,"b":3400,"c":900},
      {"p":51,"b":900,"c":300},{"p":54,"b":2600,"c":700},{"p":57,"b":400,"c":150},{"p":60,"b":3200,"c":850},
      {"p":63,"b":1200,"c":350},{"p":66,"b":2500,"c":650},{"p":70,"b":500,"c":200},{"p":74,"b":2300,"c":600},
      {"p":78,"b":900,"c":300},{"p":82,"b":2100,"c":550},{"p":86,"b":600,"c":200},{"p":90,"b":1800,"c":500},
      {"p":95,"b":700,"c":250},{"p":100,"b":1400,"c":400},{"p":105,"b":900,"c":300},{"p":110,"b":3900,"c":1000},
      {"p":115,"b":2000,"c":550},{"p":120,"b":3200,"c":800},{"p":126,"b":1800,"c":450},{"p":132,"b":300,"c":100},
      {"p":138,"b":800,"c":200},{"p":144,"b":2700,"c":700},{"p":150,"b":400,"c":150},{"p":156,"b":300,"c":100},
      {"p":162,"b":1200,"c":300},{"p":170,"b":600,"c":150},{"p":176,"b":2500,"c":600},{"p":182,"b":11500,"c":2500},
      {"p":188,"b":3000,"c":700},{"p":195,"b":800,"c":200},{"p":205,"b":600,"c":150},{"p":215,"b":1800,"c":400},
      {"p":226,"b":1600,"c":350},{"p":236,"b":1800,"c":450},{"p":244,"b":4000,"c":950},{"p":252,"b":1500,"c":400},
      {"p":262,"b":600,"c":200},{"p":275,"b":900,"c":250},{"p":292,"b":2600,"c":650},{"p":305,"b":2000,"c":500},
      {"p":320,"b":2300,"c":500},{"p":335,"b":3500,"c":800},{"p":345,"b":4800,"c":1100},{"p":365,"b":43500,"c":10000},
      {"p":390,"b":5200,"c":1300},{"p":408,"b":3500,"c":900},{"p":425,"b":2600,"c":650},{"p":450,"b":2200,"c":500},
      {"p":480,"b":2500,"c":550},{"p":505,"b":1700,"c":400},{"p":530,"b":1100,"c":300},{"p":560,"b":900,"c":250},
      {"p":600,"b":900,"c":230},{"p":640,"b":800,"c":200},{"p":680,"b":1800,"c":500},{"p":725,"b":3300,"c":820},
      {"p":770,"b":2200,"c":550},{"p":825,"b":1000,"c":250},{"p":900,"b":800,"c":230},{"p":1000,"b":700,"c":220},
      {"p":1100,"b":700,"c":220},{"p":1160,"b":700,"c":230},{"p":1250,"b":1200,"c":350},{"p":1350,"b":1700,"c":480},
      {"p":1461,"b":2300,"c":620}
    ],
    "notes": [
      {"g":"p","d":101,"v":40,"txt":"dH = 242 m"},
      {"g":"p","d":405,"v":40,"txt":"Amplitude = 1.18 cm"},
      {"g":"q","d":101,"v":40,"txt":"dH = 726 m"},
      {"g":"q","d":403,"v":40,"txt":"Amplitude = 2.03 cm"},
      {"g":"r","d":85,"v":10,"txt":"dH = 1,242 m"},
      {"g":"r","d":405,"v":10,"txt":"Amplitude = 3.09 cm"}
    ]
  },
  "config": {
    "font": "Liberation Serif",
    "view": {"stroke": "#4d4d4d", "strokeWidth": 1},
    "axis": {
      "domain": false, "grid": false, "tickSize": -5, "tickColor": "#333333", "tickWidth": 1,
      "labelFont": "Liberation Serif", "labelFontSize": 17, "labelFontWeight": "bold", "labelColor": "#262626", "labelPadding": 9,
      "titleFont": "Liberation Serif", "titleFontSize": 18.5, "titleFontWeight": "bold", "titleColor": "#262626", "titlePadding": 6
    },
    "axisX": {"labelPadding": 11, "titlePadding": 4}
  },
  "spacing": 49,
  "hconcat": [
    {
      "bounds": "flush",
      "spacing": 59,
      "vconcat": [
        {
          "width": 640, "height": 208,
          "layer": [
            {
              "data": {"name": "obs"},
              "transform": [{"fold": ["p1", "p2"], "as": ["k", "v"]}],
              "mark": {"type": "circle", "size": 15, "color": "#0000ff", "opacity": 1},
              "encoding": {
                "x": {"field": "d", "type": "quantitative", "scale": {"domain": [0, 1461], "nice": false, "zero": false},
                      "axis": {"values": [200, 400, 600, 800, 1000, 1200, 1400], "labels": false, "title": null}},
                "y": {"field": "v", "type": "quantitative", "scale": {"domain": [0, 50], "nice": false},
                      "axis": {"values": [0, 10, 20, 30, 40, 50], "title": "dZTD (cm)"}}
              }
            },
            {
              "data": {"name": "obs2"},
              "mark": {"type": "circle", "size": 15, "color": "#0000ff", "opacity": 1},
              "encoding": {
                "x": {"field": "d", "type": "quantitative", "axis": null},
                "y": {"field": "p", "type": "quantitative", "axis": null}
              }
            },
            {
              "data": {"name": "obs3"},
              "mark": {"type": "circle", "size": 15, "color": "#0000ff", "opacity": 1},
              "encoding": {
                "x": {"field": "d", "type": "quantitative", "axis": null},
                "y": {"field": "p", "type": "quantitative", "axis": null}
              }
            },
            {
              "data": {"name": "fit"},
              "mark": {"type": "line", "color": "#ff0000", "strokeWidth": 2.5, "interpolate": "monotone"},
              "encoding": {
                "x": {"field": "d", "type": "quantitative", "axis": {"orient": "top", "values": [200, 400, 600, 800, 1000, 1200, 1400], "labels": false, "title": null}},
                "y": {"field": "p", "type": "quantitative", "axis": {"orient": "right", "values": [0, 10, 20, 30, 40, 50], "labels": false, "title": null}}
              }
            },
            {
              "data": {"name": "notes"},
              "transform": [{"filter": "datum.g == 'p'"}],
              "mark": {"type": "text", "align": "left", "baseline": "middle", "fontSize": 16, "fontWeight": "bold", "color": "#000000"},
              "encoding": {
                "x": {"field": "d", "type": "quantitative", "axis": null},
                "y": {"field": "v", "type": "quantitative", "axis": null},
                "text": {"field": "txt"}
              }
            }
          ],
          "resolve": {"axis": {"x": "independent", "y": "independent"}}
        },
        {
          "width": 640, "height": 208,
          "layer": [
            {
              "data": {"name": "obs"},
              "transform": [{"fold": ["q1", "q2"], "as": ["k", "v"]}],
              "mark": {"type": "circle", "size": 15, "color": "#0000ff", "opacity": 1},
              "encoding": {
                "x": {"field": "d", "type": "quantitative", "scale": {"domain": [0, 1461], "nice": false, "zero": false},
                      "axis": {"values": [200, 400, 600, 800, 1000, 1200, 1400], "labels": false, "title": null}},
                "y": {"field": "v", "type": "quantitative", "scale": {"domain": [0, 50], "nice": false},
                      "axis": {"values": [0, 10, 20, 30, 40, 50], "title": "dZTD (cm)"}}
              }
            },
            {
              "data": {"name": "obs2"},
              "mark": {"type": "circle", "size": 15, "color": "#0000ff", "opacity": 1},
              "encoding": {
                "x": {"field": "d", "type": "quantitative", "axis": null},
                "y": {"field": "q", "type": "quantitative", "axis": null}
              }
            },
            {
              "data": {"name": "obs3"},
              "mark": {"type": "circle", "size": 15, "color": "#0000ff", "opacity": 1},
              "encoding": {
                "x": {"field": "d", "type": "quantitative", "axis": null},
                "y": {"field": "q", "type": "quantitative", "axis": null}
              }
            },
            {
              "data": {"name": "fit"},
              "mark": {"type": "line", "color": "#ff0000", "strokeWidth": 2.5, "interpolate": "monotone"},
              "encoding": {
                "x": {"field": "d", "type": "quantitative", "axis": {"orient": "top", "values": [200, 400, 600, 800, 1000, 1200, 1400], "labels": false, "title": null}},
                "y": {"field": "q", "type": "quantitative", "axis": {"orient": "right", "values": [0, 10, 20, 30, 40, 50], "labels": false, "title": null}}
              }
            },
            {
              "data": {"name": "notes"},
              "transform": [{"filter": "datum.g == 'q'"}],
              "mark": {"type": "text", "align": "left", "baseline": "middle", "fontSize": 16, "fontWeight": "bold", "color": "#000000"},
              "encoding": {
                "x": {"field": "d", "type": "quantitative", "axis": null},
                "y": {"field": "v", "type": "quantitative", "axis": null},
                "text": {"field": "txt"}
              }
            }
          ],
          "resolve": {"axis": {"x": "independent", "y": "independent"}}
        },
        {
          "width": 640, "height": 208,
          "layer": [
            {
              "data": {"name": "obs"},
              "transform": [{"fold": ["r1", "r2"], "as": ["k", "v"]}],
              "mark": {"type": "circle", "size": 15, "color": "#0000ff", "opacity": 1},
              "encoding": {
                "x": {"field": "d", "type": "quantitative", "scale": {"domain": [0, 1461], "nice": false, "zero": false},
                      "axis": {"values": [214, 579, 945, 1310], "labelExpr": "'' + (2019 + round((datum.value - 214) / 365.25))", "title": "Time (Year)"}},
                "y": {"field": "v", "type": "quantitative", "scale": {"domain": [0, 50], "nice": false},
                      "axis": {"values": [0, 10, 20, 30, 40, 50], "title": "dZTD (cm)"}}
              }
            },
            {
              "data": {"name": "obs2"},
              "mark": {"type": "circle", "size": 15, "color": "#0000ff", "opacity": 1},
              "encoding": {
                "x": {"field": "d", "type": "quantitative", "axis": null},
                "y": {"field": "r", "type": "quantitative", "axis": null}
              }
            },
            {
              "data": {"name": "obs3"},
              "mark": {"type": "circle", "size": 15, "color": "#0000ff", "opacity": 1},
              "encoding": {
                "x": {"field": "d", "type": "quantitative", "axis": null},
                "y": {"field": "r", "type": "quantitative", "axis": null}
              }
            },
            {
              "data": {"name": "fit"},
              "mark": {"type": "line", "color": "#ff0000", "strokeWidth": 2.5, "interpolate": "monotone"},
              "encoding": {
                "x": {"field": "d", "type": "quantitative", "axis": {"orient": "top", "values": [214, 579, 945, 1310], "labels": false, "title": null}},
                "y": {"field": "r", "type": "quantitative", "axis": {"orient": "right", "values": [0, 10, 20, 30, 40, 50], "labels": false, "title": null}}
              }
            },
            {
              "data": {"name": "notes"},
              "transform": [{"filter": "datum.g == 'r'"}],
              "mark": {"type": "text", "align": "left", "baseline": "middle", "fontSize": 16, "fontWeight": "bold", "color": "#000000"},
              "encoding": {
                "x": {"field": "d", "type": "quantitative", "axis": null},
                "y": {"field": "v", "type": "quantitative", "axis": null},
                "text": {"field": "txt"}
              }
            }
          ],
          "resolve": {"axis": {"x": "independent", "y": "independent"}}
        }
      ]
    },
    {
      "bounds": "flush",
      "spacing": 74,
      "vconcat": [
        {
          "width": 640, "height": 132,
          "layer": [
            {
              "data": {"name": "obs"},
              "transform": [{"fold": ["b1", "b2"], "as": ["k", "v"]}],
              "mark": {"type": "circle", "size": 48, "fill": "#66a8d8", "stroke": "#2a78b8", "strokeWidth": 0.8, "opacity": 1},
              "encoding": {
                "x": {"field": "d", "type": "quantitative", "scale": {"domain": [0, 1461], "nice": false, "zero": false},
                      "axis": {"values": [214, 579, 945, 1310], "labelExpr": "'' + (2019 + round((datum.value - 214) / 365.25))", "title": "Time (Year)"}},
                "y": {"field": "v", "type": "quantitative", "scale": {"domain": [-150, 0], "nice": false},
                      "axis": {"values": [-150, -100, -50, 0], "title": "b (km)"}}
              }
            },
            {
              "data": {"name": "obs2"},
              "mark": {"type": "circle", "size": 48, "fill": "#66a8d8", "stroke": "#2a78b8", "strokeWidth": 0.8, "opacity": 1},
              "encoding": {
                "x": {"field": "d", "type": "quantitative", "axis": null},
                "y": {"field": "b", "type": "quantitative", "axis": null}
              }
            },
            {
              "data": {"name": "obs3"},
              "mark": {"type": "circle", "size": 48, "fill": "#66a8d8", "stroke": "#2a78b8", "strokeWidth": 0.8, "opacity": 1},
              "encoding": {
                "x": {"field": "d", "type": "quantitative", "axis": null},
                "y": {"field": "b", "type": "quantitative", "axis": null}
              }
            },
            {
              "data": {"name": "fit"},
              "mark": {"type": "line", "color": "#ff0000", "strokeWidth": 6.5, "interpolate": "monotone"},
              "encoding": {
                "x": {"field": "d", "type": "quantitative", "axis": {"orient": "top", "values": [214, 579, 945, 1310], "labels": false, "title": null}},
                "y": {"field": "b", "type": "quantitative", "axis": {"orient": "right", "values": [-150, -100, -50, 0], "labels": false, "title": null}}
              }
            }
          ],
          "resolve": {"axis": {"x": "independent", "y": "independent"}}
        },
        {
          "width": 640, "height": 128,
          "title": {"text": "×10⁴", "anchor": "start", "frame": "group", "fontSize": 17, "fontWeight": "normal", "font": "Liberation Serif", "color": "#262626", "offset": 2},
          "data": {"name": "spec"},
          "layer": [
            {
              "mark": {"type": "line", "color": "#000000", "strokeWidth": 4.5},
              "encoding": {
                "x": {"field": "p", "type": "quantitative", "scale": {"domain": [12, 1461], "nice": false, "zero": false},
                      "axis": {"values": [200, 400, 600, 800, 1000, 1200, 1400], "format": "d", "title": "Period (d)"}},
                "y": {"field": "b", "type": "quantitative", "scale": {"domain": [0, 60000], "nice": false},
                      "axis": {"values": [0, 20000, 40000, 60000], "labelExpr": "'' + (datum.value / 10000)", "title": "Power of b"}}
              }
            },
            {
              "mark": {"type": "line", "color": "#000000", "strokeWidth": 4.5},
              "encoding": {
                "x": {"field": "p", "type": "quantitative", "axis": {"orient": "top", "values": [200, 400, 600, 800, 1000, 1200, 1400], "labels": false, "title": null}},
                "y": {"field": "b", "type": "quantitative", "axis": {"orient": "right", "values": [0, 20000, 40000, 60000], "labels": false, "title": null}}
              }
            }
          ],
          "resolve": {"axis": {"x": "independent", "y": "independent"}}
        },
        {
          "width": 640, "height": 132,
          "layer": [
            {
              "data": {"name": "obs"},
              "transform": [{"fold": ["c1", "c2"], "as": ["k", "v"]}],
              "mark": {"type": "circle", "size": 48, "fill": "#66a8d8", "stroke": "#2a78b8", "strokeWidth": 0.8, "opacity": 1},
              "encoding": {
                "x": {"field": "d", "type": "quantitative", "scale": {"domain": [0, 1461], "nice": false, "zero": false},
                      "axis": {"values": [214, 579, 945, 1310], "labelExpr": "'' + (2019 + round((datum.value - 214) / 365.25))", "title": "Time (Year)"}},
                "y": {"field": "v", "type": "quantitative", "scale": {"domain": [20, 45], "nice": false, "zero": false},
                      "axis": {"values": [20, 30, 40], "title": "c (km)"}}
              }
            },
            {
              "data": {"name": "obs2"},
              "mark": {"type": "circle", "size": 48, "fill": "#66a8d8", "stroke": "#2a78b8", "strokeWidth": 0.8, "opacity": 1},
              "encoding": {
                "x": {"field": "d", "type": "quantitative", "axis": null},
                "y": {"field": "c", "type": "quantitative", "axis": null}
              }
            },
            {
              "data": {"name": "obs3"},
              "mark": {"type": "circle", "size": 48, "fill": "#66a8d8", "stroke": "#2a78b8", "strokeWidth": 0.8, "opacity": 1},
              "encoding": {
                "x": {"field": "d", "type": "quantitative", "axis": null},
                "y": {"field": "c", "type": "quantitative", "axis": null}
              }
            },
            {
              "data": {"name": "fit"},
              "mark": {"type": "line", "color": "#ff0000", "strokeWidth": 6.5, "interpolate": "monotone"},
              "encoding": {
                "x": {"field": "d", "type": "quantitative", "axis": {"orient": "top", "values": [214, 579, 945, 1310], "labels": false, "title": null}},
                "y": {"field": "c", "type": "quantitative", "axis": {"orient": "right", "values": [20, 30, 40], "labels": false, "title": null}}
              }
            }
          ],
          "resolve": {"axis": {"x": "independent", "y": "independent"}}
        },
        {
          "width": 640, "height": 131,
          "data": {"name": "spec"},
          "layer": [
            {
              "mark": {"type": "line", "color": "#000000", "strokeWidth": 4.5},
              "encoding": {
                "x": {"field": "p", "type": "quantitative", "scale": {"domain": [12, 1461], "nice": false, "zero": false},
                      "axis": {"values": [200, 400, 600, 800, 1000, 1200, 1400], "format": "d", "title": "Period (d)"}},
                "y": {"field": "c", "type": "quantitative", "scale": {"domain": [0, 12000], "nice": false},
                      "axis": {"values": [0, 5000, 10000], "format": "d", "title": "Power of c"}}
              }
            },
            {
              "mark": {"type": "line", "color": "#000000", "strokeWidth": 4.5},
              "encoding": {
                "x": {"field": "p", "type": "quantitative", "axis": {"orient": "top", "values": [200, 400, 600, 800, 1000, 1200, 1400], "labels": false, "title": null}},
                "y": {"field": "c", "type": "quantitative", "axis": {"orient": "right", "values": [0, 5000, 10000], "labels": false, "title": null}}
              }
            }
          ],
          "resolve": {"axis": {"x": "independent", "y": "independent"}}
        }
      ]
    }
  ]
}
